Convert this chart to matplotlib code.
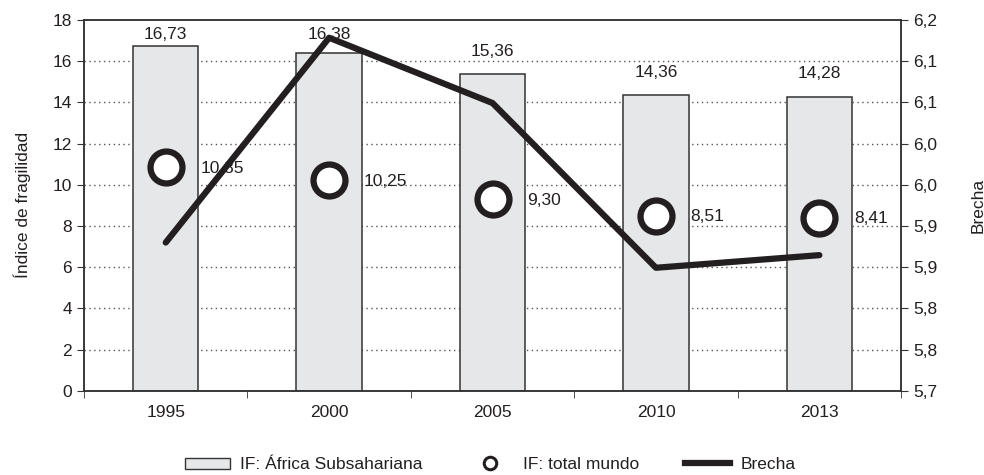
import numpy as np
import matplotlib
matplotlib.use("Agg")
import matplotlib.pyplot as plt
from matplotlib.patches import Patch
from matplotlib.lines import Line2D

plt.rcParams['font.family'] = ['Liberation Sans', 'DejaVu Sans']
plt.rcParams['font.size'] = 12.5
plt.rcParams['text.color'] = '#231f20'
plt.rcParams['axes.labelcolor'] = '#231f20'
plt.rcParams['xtick.color'] = '#231f20'
plt.rcParams['ytick.color'] = '#231f20'

years = ['1995', '2000', '2005', '2010', '2013']
africa = [16.73, 16.38, 15.36, 14.36, 14.28]
mundo = [10.85, 10.25, 9.30, 8.51, 8.41]
brecha = [5.90, 6.176, 6.088, 5.866, 5.883]


def fmt(v, n=2):
    return f"{v:.{n}f}".replace('.', ',')


fig = plt.figure(figsize=(9.84, 4.75), dpi=100)
ax = fig.add_axes([0.0854, 0.177, 0.8303, 0.781])
x = np.arange(len(years))

ax.set_axisbelow(True)
ax.bar(x, africa, width=0.4, color='#e6e7e8', edgecolor='#333333', linewidth=1.1, zorder=2)
ax.plot(x, mundo, 'o', ms=23, mfc='white', mec='#231f20', mew=4.5, zorder=3)

for xi, v in zip(x, africa):
    ax.text(xi, min(v + 0.75, 16.95), fmt(v), ha='center', va='bottom', zorder=4)
for xi, v in zip(x, mundo):
    ax.annotate(fmt(v), (xi, v), xytext=(25, -1), textcoords='offset points',
                ha='left', va='center', zorder=4)

ax.set_xlim(-0.5, len(years) - 0.5)
ax.set_ylim(0, 18)
ax.set_yticks(np.arange(0, 19, 2))
ax.set_xticks(x)
ax.set_xticklabels(years)
ax.tick_params(axis='x', which='major', length=0, pad=10)
ax.set_xticks(np.arange(-0.5, len(years), 1), minor=True)
ax.tick_params(axis='x', which='minor', length=5, direction='out', color='#333333')
ax.tick_params(axis='y', length=5, direction='out', color='#333333')
ax.set_ylabel('Índice de fragilidad', labelpad=16)
for yv in range(2, 18, 2):
    ax.axhline(yv, color='#555555', lw=1, ls=(0, (1, 2.5)), zorder=1)
for s in ax.spines.values():
    s.set_color('#333333')
    s.set_linewidth(1.1)

ax2 = ax.twinx()
ax2.plot(x, brecha, color='#231f20', lw=4.5, solid_capstyle='round', zorder=5)
ax2.set_ylim(5.7, 6.2)
ax2.set_yticks(np.linspace(5.7, 6.2, 10))
ax2.set_yticklabels([fmt(v, 1) for v in np.linspace(5.7, 6.2, 10)])
ax2.tick_params(axis='y', length=5, direction='out', color='#333333')
ax2.set_ylabel('Brecha', labelpad=24)
for s in ax2.spines.values():
    s.set_color('#333333')
    s.set_linewidth(1.1)

handles = [
    Patch(facecolor='#e6e7e8', edgecolor='#333333', linewidth=1),
    Line2D([], [], marker='o', ls='none', ms=9, mfc='white', mec='#231f20', mew=2.2),
    Line2D([], [], color='#231f20', lw=4.5),
]
labels = ['IF: África Subsahariana', 'IF: total mundo', 'Brecha']
fig.legend(handles, labels, loc='lower center', bbox_to_anchor=(0.498, -0.027), ncol=3,
           frameon=False, handlelength=2.6, handleheight=0.6, columnspacing=2.6,
           handletextpad=0.6)

fig.savefig('out.png', dpi=100)
